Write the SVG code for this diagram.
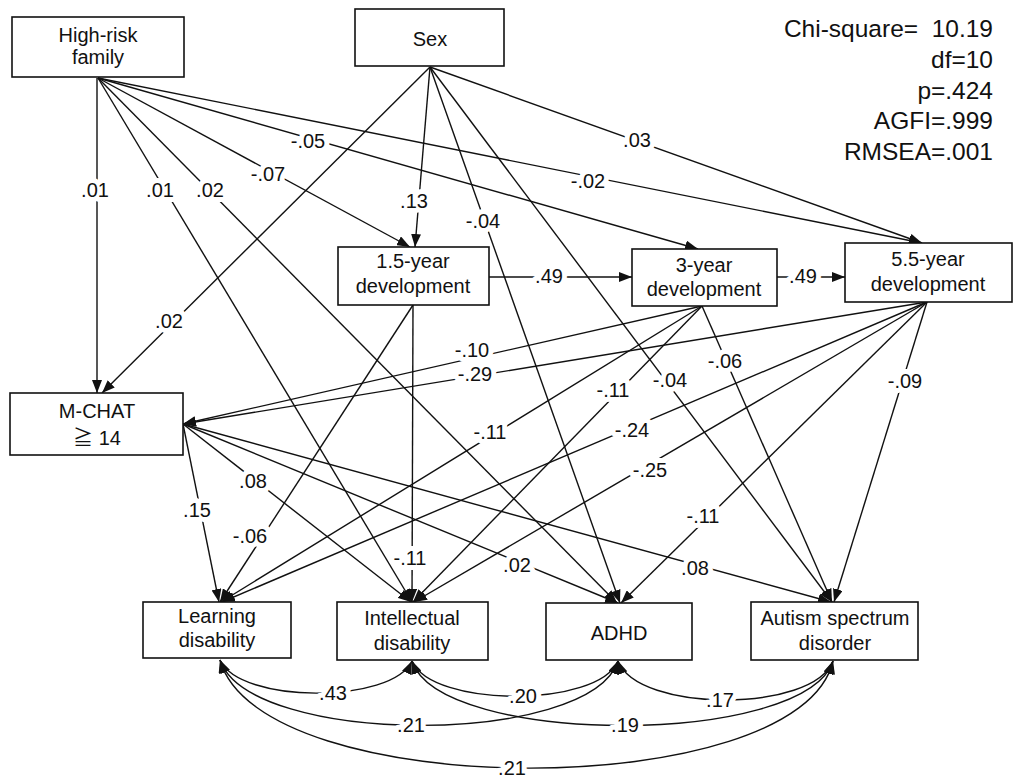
<svg xmlns="http://www.w3.org/2000/svg" width="1021" height="779" viewBox="0 0 1021 779">
<style>
.box{fill:#fff;stroke:#111;stroke-width:1.6}
.t{font-family:"Liberation Sans",Arial,"Noto Sans CJK JP",sans-serif;font-size:20px;text-anchor:middle;fill:#111}
.s{font-family:"Liberation Sans",Arial,sans-serif;font-size:24.5px;text-anchor:end;fill:#111}
.l{font-family:"Liberation Sans",Arial,sans-serif;font-size:20px;text-anchor:middle;fill:#111;paint-order:stroke;stroke:#fff;stroke-width:10px;stroke-linejoin:round}
.e{stroke:#111;stroke-width:1.4;fill:none;marker-end:url(#ah)}
.c{stroke:#111;stroke-width:1.4;fill:none;marker-start:url(#ah);marker-end:url(#ah)}
</style>
<defs>
<marker id="ah" markerUnits="userSpaceOnUse" markerWidth="13" markerHeight="10" refX="13" refY="5" orient="auto-start-reverse">
<path d="M0,0 L13,5 L0,10 z" fill="#111"/>
</marker>
</defs>
<rect width="1021" height="779" fill="#fff"/>

<g id="connectors">
<!-- High-risk family -->
<line class="e" x1="97" y1="78" x2="97" y2="393"/>
<line class="e" x1="98" y1="78" x2="412" y2="602"/>
<line class="e" x1="98" y1="78" x2="617" y2="603"/>
<line class="e" x1="98" y1="78" x2="410" y2="247"/>
<line class="e" x1="98" y1="78" x2="698" y2="249"/>
<line class="e" x1="98" y1="78" x2="922" y2="243"/>
<!-- Sex -->
<line class="e" x1="430" y1="67" x2="102" y2="393"/>
<line class="e" x1="430" y1="67" x2="415" y2="247"/>
<line class="e" x1="430" y1="67" x2="620" y2="603"/>
<line class="e" x1="430" y1="67" x2="832" y2="602"/>
<line class="e" x1="430" y1="67" x2="922" y2="243"/>
<!-- 1.5-year -->
<line class="e" x1="489" y1="277" x2="632" y2="277"/>
<line class="e" x1="413" y1="305" x2="412" y2="602"/>
<line class="e" x1="413" y1="305" x2="220" y2="602"/>
<!-- 3-year -->
<line class="e" x1="777" y1="277" x2="845" y2="277"/>
<line class="e" x1="702" y1="306" x2="183" y2="424"/>
<line class="e" x1="702" y1="306" x2="221" y2="602"/>
<line class="e" x1="702" y1="306" x2="413" y2="602"/>
<line class="e" x1="702" y1="306" x2="832" y2="602"/>
<!-- 5.5-year -->
<line class="e" x1="927" y1="302" x2="183" y2="424"/>
<line class="e" x1="927" y1="302" x2="222" y2="602"/>
<line class="e" x1="927" y1="302" x2="414" y2="602"/>
<line class="e" x1="927" y1="302" x2="621" y2="603"/>
<line class="e" x1="927" y1="302" x2="834" y2="602"/>
<!-- M-CHAT -->
<line class="e" x1="183" y1="424" x2="219" y2="602"/>
<line class="e" x1="183" y1="424" x2="411" y2="602"/>
<line class="e" x1="183" y1="424" x2="618" y2="603"/>
<line class="e" x1="183" y1="424" x2="831" y2="602"/>
<!-- covariances -->
<path class="c" d="M220,660 C240,704 392,704 412,661"/>
<path class="c" d="M220,660 C250,747 590,747 618,661"/>
<path class="c" d="M220,660 C260,804 800,804 833,661"/>
<path class="c" d="M412,661 C432,708 598,708 618,661"/>
<path class="c" d="M412,661 C440,747 805,747 833,661"/>
<path class="c" d="M618,661 C638,713 813,713 833,661"/>
</g>

<g id="labels">
<text class="l" x="95" y="197">.01</text>
<text class="l" x="160" y="197">.01</text>
<text class="l" x="210" y="197">.02</text>
<text class="l" x="268" y="181">-.07</text>
<text class="l" x="308" y="148">-.05</text>
<text class="l" x="588" y="188">-.02</text>
<text class="l" x="414" y="208">.13</text>
<text class="l" x="483" y="228">-.04</text>
<text class="l" x="637" y="147">.03</text>
<text class="l" x="169" y="328">.02</text>
<text class="l" x="670" y="387">-.04</text>
<text class="l" x="549" y="283">.49</text>
<text class="l" x="410" y="565">-.11</text>
<text class="l" x="250" y="543">-.06</text>
<text class="l" x="803" y="283">.49</text>
<text class="l" x="472" y="357">-.10</text>
<text class="l" x="490" y="439">-.11</text>
<text class="l" x="613" y="397">-.11</text>
<text class="l" x="725" y="368">-.06</text>
<text class="l" x="475" y="381">-.29</text>
<text class="l" x="632" y="437">-.24</text>
<text class="l" x="650" y="477">-.25</text>
<text class="l" x="703" y="523">-.11</text>
<text class="l" x="905" y="388">-.09</text>
<text class="l" x="197" y="517">.15</text>
<text class="l" x="253" y="488">.08</text>
<text class="l" x="517" y="572">.02</text>
<text class="l" x="695" y="575">.08</text>
<text class="l" x="333" y="700">.43</text>
<text class="l" x="411" y="732">.21</text>
<text class="l" x="512" y="775">.21</text>
<text class="l" x="523" y="703">.20</text>
<text class="l" x="625" y="732">.19</text>
<text class="l" x="720" y="707">.17</text>
</g>

<g id="high-risk-family">
<rect class="box" x="12" y="17" width="172" height="60"/>
<text class="t" x="98" y="42">High-risk</text>
<text class="t" x="98" y="64">family</text>
</g>
<g id="sex">
<rect class="box" x="355" y="9" width="149" height="57"/>
<text class="t" x="430" y="46">Sex</text>
</g>
<g id="dev-1-5">
<rect class="box" x="338" y="247" width="151" height="58"/>
<text class="t" x="413" y="268">1.5-year</text>
<text class="t" x="413" y="293">development</text>
</g>
<g id="dev-3">
<rect class="box" x="632" y="249" width="145" height="57"/>
<text class="t" x="704" y="272">3-year</text>
<text class="t" x="704" y="296">development</text>
</g>
<g id="dev-5-5">
<rect class="box" x="845" y="243" width="167" height="59"/>
<text class="t" x="928" y="266">5.5-year</text>
<text class="t" x="928" y="291">development</text>
</g>
<g id="mchat">
<rect class="box" x="10" y="393" width="173" height="62"/>
<text class="t" x="97" y="418">M-CHAT</text>
<text class="t" x="97" y="445">≧ 14</text>
</g>
<g id="learning-disability">
<rect class="box" x="143" y="602" width="148" height="56"/>
<text class="t" x="217" y="623">Learning</text>
<text class="t" x="217" y="647">disability</text>
</g>
<g id="intellectual-disability">
<rect class="box" x="337" y="602" width="151" height="58"/>
<text class="t" x="412" y="625">Intellectual</text>
<text class="t" x="412" y="650">disability</text>
</g>
<g id="adhd">
<rect class="box" x="546" y="603" width="146" height="57"/>
<text class="t" x="619" y="640">ADHD</text>
</g>
<g id="asd">
<rect class="box" x="751" y="602" width="167" height="58"/>
<text class="t" x="835" y="625">Autism spectrum</text>
<text class="t" x="835" y="650">disorder</text>
</g>

<g id="fit-stats">
<text class="s" x="993" y="37">Chi-square=&#160; 10.19</text>
<text class="s" x="993" y="68">df=10</text>
<text class="s" x="993" y="99">p=.424</text>
<text class="s" x="993" y="129">AGFI=.999</text>
<text class="s" x="993" y="160">RMSEA=.001</text>
</g>
</svg>
